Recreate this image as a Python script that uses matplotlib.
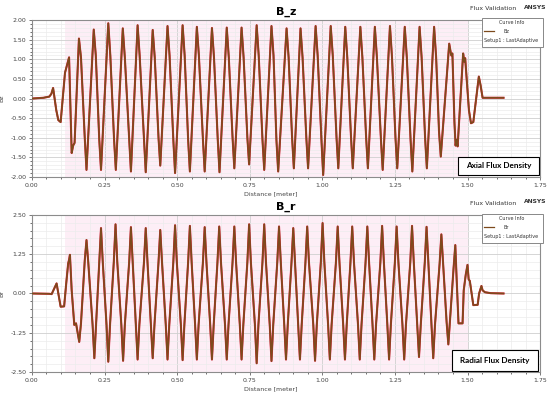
#%% Flux Validation - B_z and B_r along the distance
# values
import numpy as np
import matplotlib.pyplot as plt
from matplotlib.patches import Rectangle
from matplotlib.ticker import MultipleLocator, FormatStrFormatter

#%% data
# axial flux density Bz (T) vs distance (m)
bz_dist = [0.000, 0.040, 0.060, 0.067, 0.073, 0.084, 0.091, 0.099, 0.114, 0.121, 0.128,
           0.137, 0.142, 0.147,
           0.162, 0.169, 0.182, 0.188, 0.213, 0.220, 0.232, 0.238,
           0.263, 0.270, 0.283, 0.289, 0.313, 0.320, 0.335, 0.341,
           0.364, 0.371, 0.386, 0.392, 0.416, 0.423, 0.436, 0.442,
           0.467, 0.474, 0.487, 0.493, 0.519, 0.526, 0.538, 0.544,
           0.568, 0.575, 0.589, 0.595, 0.620, 0.627, 0.640, 0.646,
           0.671, 0.678, 0.691, 0.697, 0.722, 0.729, 0.742, 0.748,
           0.774, 0.781, 0.794, 0.800, 0.825, 0.832, 0.842, 0.848,
           0.877, 0.884, 0.896, 0.902, 0.925, 0.932, 0.945, 0.951,
           0.977, 0.984, 0.997, 1.003, 1.029, 1.036, 1.049, 1.055,
           1.079, 1.086, 1.099, 1.105, 1.131, 1.138, 1.151, 1.157,
           1.181, 1.188, 1.202, 1.208, 1.233, 1.240, 1.252, 1.258,
           1.284, 1.291, 1.304, 1.310, 1.335, 1.342, 1.354, 1.360,
           1.385, 1.392, 1.402, 1.408, 1.437, 1.444, 1.448, 1.455,
           1.459, 1.462, 1.466, 1.485, 1.489, 1.492, 1.505, 1.512,
           1.520, 1.539, 1.545, 1.552, 1.624]
bz_vals = [0.00, 0.02, 0.05, 0.12, 0.27, -0.30, -0.55, -0.60, 0.66, 0.85, 1.05,
           -1.39, -1.20, -1.13,
           1.53, 1.05, -1.00, -1.82, 1.76, 1.10, -1.05, -1.82,
           1.92, 1.10, -1.05, -1.82, 1.79, 1.05, -1.05, -1.86,
           1.87, 1.10, -1.05, -1.88, 1.75, 1.05, -1.00, -1.71,
           1.85, 1.10, -1.05, -1.90, 1.87, 1.10, -1.05, -1.86,
           1.83, 1.10, -1.05, -1.86, 1.80, 1.05, -1.05, -1.88,
           1.81, 1.05, -1.00, -1.78, 1.81, 1.05, -1.00, -1.68,
           1.87, 1.10, -1.05, -1.82, 1.85, 1.10, -1.05, -1.86,
           1.79, 1.05, -1.00, -1.78, 1.79, 1.05, -1.00, -1.78,
           1.85, 1.10, -1.05, -1.95, 1.85, 1.10, -1.00, -1.78,
           1.83, 1.05, -1.00, -1.78, 1.83, 1.05, -1.00, -1.78,
           1.83, 1.05, -1.05, -1.82, 1.85, 1.05, -1.00, -1.78,
           1.83, 1.05, -1.05, -1.86, 1.83, 1.05, -1.00, -1.78,
           1.83, 1.05, -0.85, -1.48, 1.40, 1.10, 1.15, -0.60,
           -1.20, -1.05, -1.22, 1.15, 0.94, 1.03, -0.30, -0.63,
           -0.60, 0.56, 0.34, 0.02, 0.02]

# radial flux density Br (T) vs distance (m)
br_dist = [0.000, 0.060, 0.068, 0.085, 0.099, 0.111, 0.119, 0.125, 0.128, 0.131,
           0.137, 0.146, 0.152, 0.163, 0.169,
           0.182, 0.188, 0.194, 0.209, 0.215, 0.221, 0.232, 0.238, 0.244,
           0.257, 0.263, 0.269, 0.282, 0.288, 0.294, 0.308, 0.314, 0.320,
           0.335, 0.341, 0.347, 0.358, 0.364, 0.370, 0.386, 0.392, 0.398,
           0.410, 0.416, 0.422, 0.436, 0.442, 0.448, 0.461, 0.467, 0.473,
           0.487, 0.493, 0.499, 0.513, 0.519, 0.525, 0.538, 0.544, 0.550,
           0.562, 0.568, 0.574, 0.589, 0.595, 0.601, 0.614, 0.620, 0.626,
           0.639, 0.645, 0.651, 0.665, 0.671, 0.677, 0.691, 0.697, 0.703,
           0.716, 0.722, 0.728, 0.742, 0.748, 0.754, 0.768, 0.774, 0.780,
           0.794, 0.800, 0.806, 0.819, 0.825, 0.831, 0.845, 0.851, 0.857,
           0.869, 0.875, 0.881, 0.894, 0.900, 0.906, 0.917, 0.923, 0.929,
           0.942, 0.948, 0.954, 0.969, 0.975, 0.981, 0.995, 1.001, 1.007,
           1.020, 1.026, 1.032, 1.047, 1.053, 1.059, 1.072, 1.078, 1.084,
           1.097, 1.103, 1.109, 1.123, 1.129, 1.135, 1.149, 1.155, 1.161,
           1.173, 1.179, 1.185, 1.200, 1.206, 1.212, 1.224, 1.230, 1.236,
           1.250, 1.256, 1.262, 1.276, 1.282, 1.288, 1.303, 1.309, 1.315,
           1.327, 1.333, 1.339, 1.353, 1.359, 1.365, 1.376, 1.382, 1.388,
           1.404, 1.410, 1.416, 1.428, 1.434, 1.440, 1.452, 1.458, 1.462,
           1.469, 1.483, 1.487, 1.494, 1.500, 1.504, 1.508, 1.520, 1.535,
           1.540, 1.548, 1.552, 1.560, 1.580, 1.624]
br_vals = [0.00, -0.01, -0.02, 0.32, -0.42, -0.41, 0.40, 0.96, 1.07, 1.23,
           0.10, -1.00, -0.95, -1.54, -0.95,
           1.05, 1.70, 1.00, -1.00, -2.06, -1.00, 1.00, 2.08, 1.00,
           -1.00, -2.17, -1.00, 1.00, 2.20, 1.00, -1.00, -2.14, -1.00,
           1.00, 2.11, 1.00, -1.00, -2.10, -1.00, 1.00, 2.08, 1.00,
           -1.00, -2.06, -1.00, 1.00, 2.02, 1.00, -1.00, -2.10, -1.00,
           1.00, 2.17, 1.00, -1.00, -2.12, -1.00, 1.00, 2.15, 1.00,
           -1.00, -2.10, -1.00, 1.00, 2.11, 1.00, -1.00, -2.10, -1.00,
           1.00, 2.13, 1.00, -1.00, -2.10, -1.00, 1.00, 2.13, 1.00,
           -1.00, -2.10, -1.00, 1.00, 2.20, 1.00, -1.00, -2.22, -1.00,
           1.00, 2.20, 1.00, -1.00, -2.15, -1.00, 1.00, 2.13, 1.00,
           -1.00, -2.10, -1.00, 1.00, 2.08, 1.00, -1.00, -2.10, -1.00,
           1.00, 2.13, 1.00, -1.00, -2.14, -1.00, 1.00, 2.24, 1.00,
           -1.00, -2.10, -1.00, 1.00, 2.13, 1.00, -1.00, -2.10, -1.00,
           1.00, 2.13, 1.00, -1.00, -2.10, -1.00, 1.00, 2.13, 1.00,
           -1.00, -2.10, -1.00, 1.00, 2.15, 1.00, -1.00, -2.10, -1.00,
           1.00, 2.13, 1.00, -1.00, -2.10, -1.00, 1.00, 2.15, 1.00,
           -1.00, -2.02, -1.00, 1.00, 2.12, 1.00, -1.00, -2.06, -1.00,
           0.95, 1.88, 0.95, -0.90, -1.62, -0.80, 0.80, 1.54, 0.60,
           -0.95, -0.95, 0.10, 0.60, 0.91, 0.45, 0.40, -0.37, -0.36,
           0.00, 0.24, 0.10, 0.04, 0.01, 0.00]

x_ticks = [0.00, 0.25, 0.50, 0.75, 1.00, 1.25, 1.50, 1.75]
bz_ticks = [-2.00, -1.50, -1.00, -0.50, 0.00, 0.50, 1.00, 1.50, 2.00]
br_ticks = [-2.50, -1.25, 0.00, 1.25, 2.50]

line_col = '#7d4a1c'
red_col = '#e0203a'

fig = plt.figure(figsize=(5.5, 3.95), dpi=100)
fig.patch.set_facecolor('white')


def panel(rect, xs, ys, yticks, ylab, title, name, boxtext, box_rect, legend_y):
    ax = fig.add_axes(rect)
    # pinkish highlight behind the oscillating region
    ax.axvspan(0.115, 1.50, color='#fdeef6', zorder=0, lw=0)
    ax.plot(xs, ys, color=red_col, lw=1.5, zorder=2)
    ax.plot(xs, ys, color=line_col, lw=1.2, zorder=3)
    ax.set_xlim(0, 1.75)
    ax.set_ylim(yticks[0], yticks[-1])
    ax.set_xticks(x_ticks)
    ax.set_yticks(yticks)
    ax.xaxis.set_minor_locator(MultipleLocator(0.05))
    ax.yaxis.set_minor_locator(MultipleLocator((yticks[1] - yticks[0]) / 5))
    ax.xaxis.set_major_formatter(FormatStrFormatter('%.2f'))
    ax.yaxis.set_major_formatter(FormatStrFormatter('%.2f'))
    ax.grid(True, which='major', color='#cfcfcf', lw=0.6)
    ax.grid(True, which='minor', color='#ececec', lw=0.5)
    ax.set_axisbelow(True)
    ax.tick_params(labelsize=4.5, colors='#444444', length=2, width=0.5, pad=2)
    ax.tick_params(which='minor', length=1.2, width=0.4)
    for s in ax.spines.values():
        s.set_color('#8c8c8c')
        s.set_linewidth(0.8)
    ax.set_xlabel('Distance [meter]', fontsize=4.5, color='#444444', labelpad=2)
    ax.xaxis.set_label_coords(0.47, -0.09)
    ax.set_ylabel(ylab, fontsize=4.5, color='#444444', labelpad=4)
    ax.set_title(title, fontsize=8, fontweight='bold', pad=4)
    # header texts
    top = rect[1] + rect[3]
    fig.text(0.897, top + 0.026, 'Flux Validation', fontsize=4.5, color='#333333', ha='center')
    fig.text(0.973, top + 0.029, 'ANSYS', fontsize=4.3, fontweight='bold', color='#333333',
             ha='center')
    # curve info box
    fig.add_artist(Rectangle((0.876, legend_y), 0.111, 0.074, transform=fig.transFigure,
                             facecolor='white', edgecolor='#888888', lw=0.7))
    fig.text(0.931, legend_y + 0.059, 'Curve Info', fontsize=3.5, ha='center', color='#333333')
    fig.add_artist(plt.Line2D([0.880, 0.898], [legend_y + 0.040] * 2, transform=fig.transFigure,
                              color=line_col, lw=0.9))
    fig.text(0.915, legend_y + 0.035, name, fontsize=3.5, color='#333333')
    fig.text(0.880, legend_y + 0.012, 'Setup1 : LastAdaptive', fontsize=3.5, color='#333333')
    # annotation box
    ax.text(box_rect[0] + box_rect[2] / 2, box_rect[1] + box_rect[3] / 2, boxtext,
            transform=ax.transAxes, ha='center', va='center', fontsize=5.9, fontweight='bold',
            family='Lato', zorder=6)
    ax.add_patch(Rectangle((box_rect[0], box_rect[1]), box_rect[2], box_rect[3],
                           transform=ax.transAxes, facecolor='white', edgecolor='black',
                           lw=0.8, zorder=5))
    return ax


panel([0.058, 0.552, 0.924, 0.397], bz_dist, bz_vals, bz_ticks, 'Bz', 'B_z', 'Bz',
      'Axial Flux Density', (0.838, 0.01, 0.16, 0.12), 0.881)
panel([0.058, 0.058, 0.924, 0.398], br_dist, br_vals, br_ticks, 'Br', 'B_r', 'Br',
      'Radial Flux Density', (0.826, 0.01, 0.17, 0.13), 0.385)

plt.savefig('out.png', dpi=100)
plt.close()
